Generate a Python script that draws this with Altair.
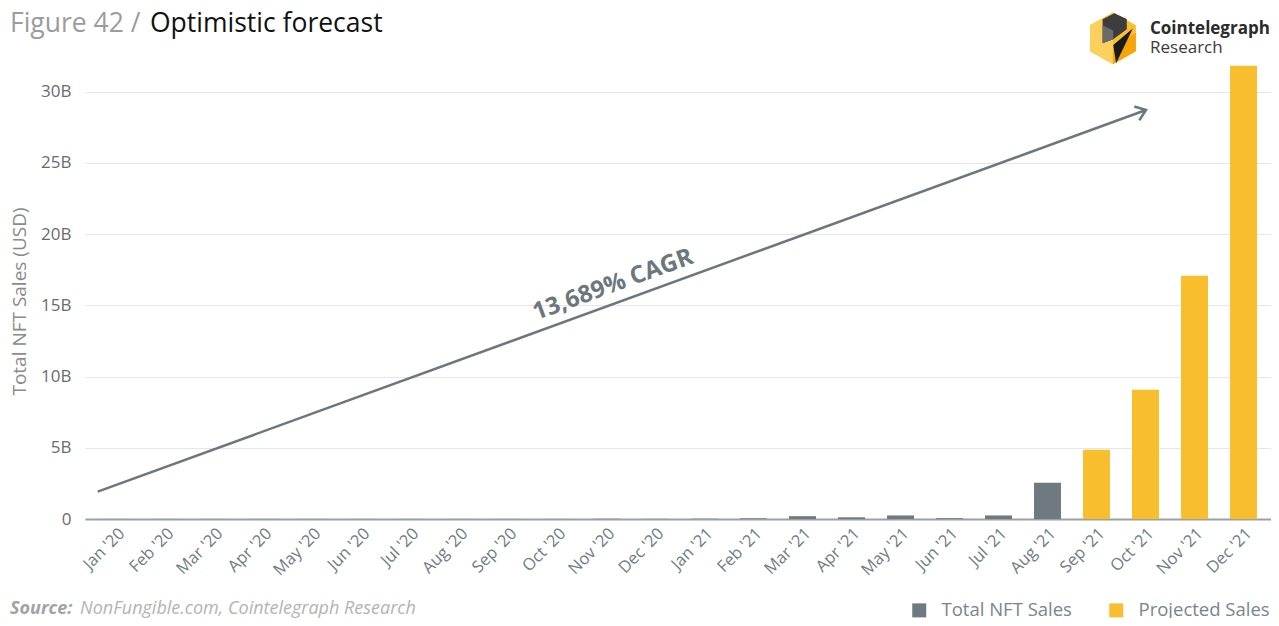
import altair as alt
import pandas as pd

months = ["Jan '20", "Feb '20", "Mar '20", "Apr '20", "May '20", "Jun '20",
          "Jul '20", "Aug '20", "Sep '20", "Oct '20", "Nov '20", "Dec '20",
          "Jan '21", "Feb '21", "Mar '21", "Apr '21", "May '21", "Jun '21",
          "Jul '21", "Aug '21", "Sep '21", "Oct '21", "Nov '21", "Dec '21"]
# Sales in billions of USD
sales = [0.005, 0.005, 0.005, 0.005, 0.005, 0.005, 0.005, 0.005, 0.005, 0.005, 0.01, 0.01,
         0.02, 0.05, 0.2, 0.12, 0.25, 0.06, 0.25, 2.55,
         4.86, 9.07, 17.07, 31.8]
series = ["Total NFT Sales"] * 20 + ["Projected Sales"] * 4
series_names = ["Total NFT Sales", "Projected Sales"]
series_colors = ["#6e7a80", "#f8be2e"]
y_ticks = [0, 5, 10, 15, 20, 25, 30]

df = pd.DataFrame({"month": months, "sales": sales, "series": series})

FONT = "Open Sans"
W, H = 1186, 456

bars = alt.Chart(df).mark_bar().encode(
    x=alt.X("month:N", sort=months,
            scale=alt.Scale(paddingInner=0.45, paddingOuter=0.327, align=0.5625),
            axis=alt.Axis(title=None, labelAngle=-45, labelFontSize=16.5, labelColor="#6f7b83",
                          domainColor="#9aa1a6", domainWidth=2, ticks=False, labelPadding=6,
                          labelFont=FONT)),
    y=alt.Y("sales:Q", scale=alt.Scale(domain=[0, 32], nice=False),
            axis=alt.Axis(values=y_ticks, labelExpr="datum.value == 0 ? '0' : datum.value + 'B'",
                          grid=True, gridColor="#e6e6e6", domain=False, ticks=False,
                          labelPadding=14, labelFontSize=17, labelColor="#6b6b6b", labelFont=FONT,
                          title="Total NFT Sales (USD)", titleFontSize=19, titleColor="#8a8a8a",
                          titleFontWeight="normal", titleFont=FONT, titlePadding=11,
                          titleY=238)),
    color=alt.Color("series:N", scale=alt.Scale(domain=series_names, range=series_colors),
                    legend=alt.Legend(title=None, orient="none", legendX=825, legendY=538,
                                      direction="horizontal", symbolType="square",
                                      symbolSize=196, symbolStrokeWidth=0,
                                      labelFontSize=18.5, labelColor="#7a858b", labelFont=FONT,
                                      labelOffset=13, columnPadding=35)),
)

one = pd.DataFrame({"k": [0]})

arrow_line = alt.Chart(one).mark_rule(color="#6c777d", strokeWidth=2.5).encode(
    x=alt.value(12.7), y=alt.value(428.7), x2=alt.value(1061), y2=alt.value(47))
arrow_head = alt.Chart(one).mark_point(
    shape="M-1,-0.75L0,0L-1,0.75", filled=False, stroke="#6c777d", strokeWidth=2.5,
    size=380, angle=340, opacity=1).encode(x=alt.value(1061), y=alt.value(47))
cagr = alt.Chart(one).mark_text(
    text="13,689% CAGR", font=FONT, fontSize=24, fontWeight="bold", color="#6c777d",
    angle=340, align="center", baseline="middle").encode(x=alt.value(528), y=alt.value(222))

title1 = alt.Chart(one).mark_text(
    text="Figure 42 /", font=FONT, fontSize=26.5, color="#9c9c9c", align="left",
    baseline="alphabetic").encode(x=alt.value(-75), y=alt.value(-31))
title2 = alt.Chart(one).mark_text(
    text="Optimistic forecast", font=FONT, fontSize=26.5, color="#111111", align="left",
    baseline="alphabetic").encode(x=alt.value(65), y=alt.value(-31))

src1 = alt.Chart(one).mark_text(
    text="Source:", font=FONT, fontSize=18, fontWeight="bold", fontStyle="italic",
    color="#a3a3a3", align="left", baseline="alphabetic").encode(x=alt.value(-75), y=alt.value(551))
src2 = alt.Chart(one).mark_text(
    text="NonFungible.com, Cointelegraph Research", font=FONT, fontSize=18, fontStyle="italic",
    color="#b3b3b3", align="left", baseline="alphabetic").encode(x=alt.value(-5), y=alt.value(551))

# Logo
LX, LY, LS = 1028, -24.7, 2704
logo_parts = [
    ("M0,-1L0.88,-0.5L0.88,0.5L0,1L-0.88,0.5L-0.88,-0.5Z", "#f9bf31"),
    ("M0,-1L0,1L-0.88,0.5L-0.88,-0.5Z", "#fcd05c"),
    ("M0,0.3L0.88,-0.2L0.88,0.5L0,1Z", "#f5a50a"),
    ("M-0.4,-0.73L0.05,-0.96L0.53,-0.74L0.53,-0.35L0.01,0.04L-0.4,0.19Z", "#3d3d3d"),
    ("M-0.4,-0.5L0.01,-0.3L0.01,0.04L-0.4,0.19Z", "#6b6b6b"),
    ("M0.01,0.26L0.76,-0.38L0.12,0.96Z", "#1a1a1a"),
]
logo_layers = [
    alt.Chart(one).mark_point(shape=p, filled=True, fill=c, strokeWidth=0, size=LS, opacity=1)
    .encode(x=alt.value(LX), y=alt.value(LY))
    for p, c in logo_parts
]
brand1 = alt.Chart(one).mark_text(
    text="Cointelegraph", font=FONT, fontSize=17, fontWeight="bold", color="#2b2b2b",
    align="left", baseline="alphabetic").encode(x=alt.value(1065), y=alt.value(-29))
brand2 = alt.Chart(one).mark_text(
    text="Research", font=FONT, fontSize=17, color="#3a3a3a",
    align="left", baseline="alphabetic").encode(x=alt.value(1065), y=alt.value(-10))

chart = alt.layer(
    bars, arrow_line, arrow_head, cagr, title1, title2, src1, src2, *logo_layers, brand1, brand2
).properties(
    width=W, height=H,
    autosize=alt.AutoSizeParams(type="none"),
    padding={"left": 77, "top": 55, "right": 0, "bottom": 99},
).configure(font=FONT).configure_view(strokeWidth=0)

chart.save("out.html", embed_options={"renderer": "svg", "actions": False})
